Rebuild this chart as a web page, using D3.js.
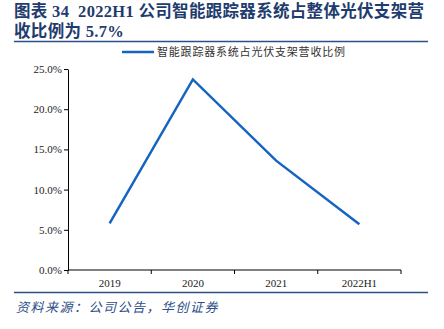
<!DOCTYPE html>
<html><head><meta charset="utf-8">
<script src="https://cdn.jsdelivr.net/npm/d3@7"></script>
<style>
body{margin:0;background:#fff;}
svg{display:block;}
text{white-space:pre;}
</style></head>
<body>
<svg id="c" width="444" height="329"></svg>
<script>
const categories = ["2019", "2020", "2021", "2022H1"];
const values = [5.8, 23.7, 13.6, 5.7];
const yTicks = [0, 5, 10, 15, 20, 25];
const titleLines = ["图表 34  2022H1 公司智能跟踪器系统占整体光伏支架营", "收比例为 5.7%"];
const seriesName = "智能跟踪器系统占光伏支架营收比例";
const sourceText = "资料来源：公司公告，华创证券";

const svg = d3.select("#c");
const serif = "'Liberation Serif','Times New Roman','Noto Sans CJK SC',serif";
const titleColor = "#1f3c6e";

const titles = svg.selectAll("text.title").data(titleLines).enter().append("text")
  .attr("x", 14).attr("y", (d, i) => 17 + i * 20)
  .attr("font-family", serif).attr("font-weight", "bold").attr("font-size", 16.5)
  .attr("fill", titleColor).text(d => d);
// fit first line to span 14..424
const t0 = titles.nodes()[0];
const w0 = t0.getComputedTextLength();
const ls = Math.max(0, (410 - w0) / (titleLines[0].length - 1));
titles.attr("letter-spacing", ls);

svg.append("line").attr("x1", 14).attr("x2", 428).attr("y1", 41.5).attr("y2", 41.5)
  .attr("stroke", "#2b4f86").attr("stroke-width", 1.5);
svg.append("line").attr("x1", 14).attr("x2", 428).attr("y1", 292.5).attr("y2", 292.5)
  .attr("stroke", "#2b4f86").attr("stroke-width", 1.5);

const x = d3.scaleBand().domain(categories).range([68, 401]);
const y = d3.scaleLinear().domain([0, 25]).range([270, 69]);

const ya = svg.append("g").attr("transform", "translate(68,0)")
  .call(d3.axisLeft(y).tickValues(yTicks).tickFormat(d => d.toFixed(1) + "%").tickSize(4).tickSizeOuter(0));
const xa = svg.append("g").attr("transform", "translate(0,270)")
  .call(d3.axisBottom(x).tickSize(4).tickSizeOuter(0));
xa.selectAll(".tick line").remove();
const bounds = categories.map(c => x(c)).concat([x.range()[1]]);
xa.selectAll("line.b").data(bounds).enter().append("line")
  .attr("x1", d => d).attr("x2", d => d).attr("y1", 0).attr("y2", 4)
  .attr("stroke", "#000");
xa.select(".domain").attr("d", `M${x.range()[0]},0H${x.range()[1]}`);
[ya, xa].forEach(g => {
  g.selectAll("text").attr("font-family", serif).attr("font-size", 11).attr("fill", "#222");
  g.select(".domain").attr("stroke", "#000");
});
ya.selectAll(".tick line").attr("stroke", "#000");
ya.selectAll(".tick text").attr("x", -6);
xa.selectAll(".tick text").attr("y", 9);

const line = d3.line().x((d, i) => x(categories[i]) + x.bandwidth() / 2).y(d => y(d));
svg.append("path").datum(values).attr("d", line)
  .attr("fill", "none").attr("stroke", "#1565c0").attr("stroke-width", 2.5);

// legend
svg.append("line").attr("x1", 122).attr("x2", 154).attr("y1", 52).attr("y2", 52)
  .attr("stroke", "#1565c0").attr("stroke-width", 2.5);
svg.append("text").attr("x", 157).attr("y", 56).attr("font-family", "'Noto Sans CJK SC',sans-serif")
  .attr("font-size", 11).attr("letter-spacing", 0.8).attr("fill", "#333").text(seriesName);

svg.append("text").attr("x", 16).attr("y", 312).attr("font-family", "'Noto Sans CJK SC',sans-serif")
  .attr("font-style", "italic").attr("font-size", 13).attr("letter-spacing", 1.5)
  .attr("fill", "#2b4f86").text(sourceText);
</script>
</body></html>
